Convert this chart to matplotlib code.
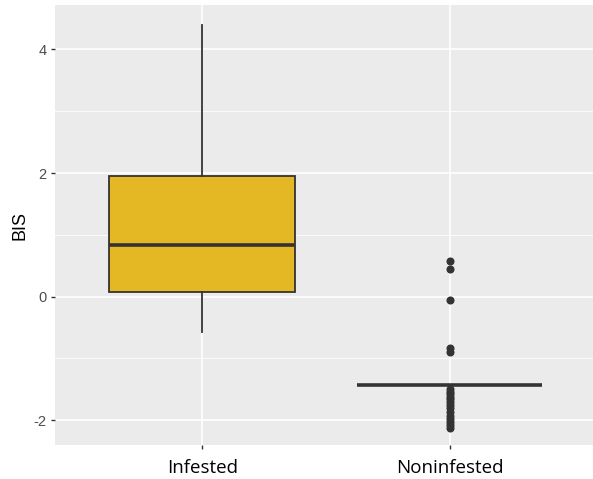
import numpy as np
import matplotlib.pyplot as plt

plt.rcParams['axes.unicode_minus'] = False

# BIS by infestation status
groups = ['Infested', 'Noninfested']
whisker_low = [-0.57, -1.43]
q1 = [0.07, -1.43]
median = [0.83, -1.43]
q3 = [1.95, -1.43]
whisker_high = [4.40, -1.43]
outliers = [
    [],
    [0.57, 0.45, -0.05, -0.83, -0.90,
     -1.50, -1.54, -1.58, -1.62, -1.66, -1.70, -1.75, -1.80,
     -1.87, -1.93, -1.98, -2.03, -2.08, -2.13],
]

fill = '#E3B824'
edge = '#333333'

fig = plt.figure(figsize=(5.93, 4.79), dpi=100)
ax = fig.add_axes([55 / 593, 34 / 479, 538 / 593, 440 / 479])
ax.set_facecolor('#EBEBEB')

stats = []
for i, g in enumerate(groups):
    stats.append(dict(label=g, whislo=whisker_low[i], q1=q1[i], med=median[i],
                      q3=q3[i], whishi=whisker_high[i], fliers=outliers[i]))

ax.bxp(stats, positions=[1, 2], widths=0.75, patch_artist=True, showcaps=False,
       boxprops=dict(facecolor=fill, edgecolor=edge, linewidth=1.3),
       medianprops=dict(color=edge, linewidth=2.6, solid_capstyle='butt'),
       whiskerprops=dict(color=edge, linewidth=1.3),
       flierprops=dict(marker='o', markerfacecolor=edge, markeredgecolor=edge,
                       markersize=4.8),
       zorder=3)

ax.set_xlim(0.405, 2.58)
ax.set_ylim(-2.4, 4.72)
ax.set_yticks([-2, 0, 2, 4])
ax.set_yticks([-1, 1, 3], minor=True)
ax.set_xticks([1, 2])
ax.set_xticklabels(groups, fontsize=13.5, family='Open Sans', color='black')
for lab in ax.get_yticklabels():
    lab.set_family('Liberation Sans')
ax.tick_params(axis='y', labelsize=10.5, labelcolor='#4D4D4D', color='#333333',
               length=3, width=1, pad=3)
ax.tick_params(axis='x', color='#333333', length=3, width=1, pad=7)
ax.tick_params(which='minor', length=0)

ax.grid(True, which='major', color='white', linewidth=1.2, zorder=0)
ax.grid(True, which='minor', color='white', linewidth=0.6, zorder=0)
ax.set_axisbelow(True)
for s in ax.spines.values():
    s.set_visible(False)

ax.set_ylabel('BIS', fontsize=13, family='Liberation Sans', labelpad=4)

fig.savefig('out.png', dpi=100)
